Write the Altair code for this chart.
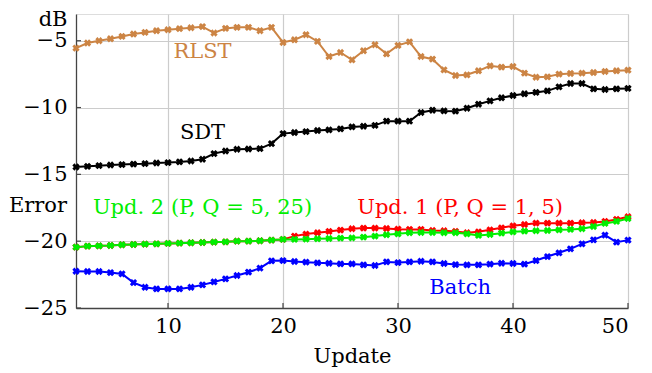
import altair as alt
import pandas as pd

updates = list(range(2, 51))

rlst = [-5.55, -5.17, -5.0, -4.85, -4.68, -4.5, -4.38, -4.25, -4.18, -4.1, -4.03, -3.95,
        -4.42, -4.08, -4.0, -4.0, -4.25, -4.0, -5.13, -4.93, -4.55, -5.05, -6.18, -5.88,
        -6.43, -5.75, -5.3, -5.98, -5.35, -5.08, -6.18, -6.38, -7.18, -7.6, -7.55, -7.25,
        -6.88, -6.98, -6.93, -7.43, -7.73, -7.7, -7.5, -7.45, -7.43, -7.38, -7.3, -7.25, -7.2]

sdt = [-14.45, -14.4, -14.35, -14.3, -14.27, -14.23, -14.2, -14.15, -14.12, -14.07, -14.0,
       -13.87, -13.45, -13.25, -13.12, -13.1, -13.07, -12.7, -11.95, -11.87, -11.8, -11.72,
       -11.67, -11.6, -11.45, -11.4, -11.33, -11.02, -11.02, -11.02, -10.37, -10.2, -10.25,
       -10.27, -10.05, -9.75, -9.5, -9.27, -9.1, -8.97, -8.87, -8.75, -8.45, -8.2, -8.2,
       -8.6, -8.65, -8.6, -8.57]

upd2 = [-20.45, -20.37, -20.35, -20.32, -20.27, -20.25, -20.22, -20.2, -20.17, -20.15,
        -20.12, -20.1, -20.07, -20.05, -20.0, -20.0, -19.97, -19.92, -19.87, -19.87, -19.85,
        -19.82, -19.8, -19.77, -19.75, -19.7, -19.62, -19.52, -19.45, -19.37, -19.35, -19.35,
        -19.37, -19.37, -19.45, -19.57, -19.5, -19.4, -19.3, -19.25, -19.22, -19.2, -19.15,
        -19.12, -19.07, -18.9, -18.67, -18.52, -18.3]

upd1 = [-20.45, -20.37, -20.35, -20.32, -20.27, -20.25, -20.22, -20.2, -20.17, -20.15,
        -20.12, -20.1, -20.07, -20.05, -20.0, -20.0, -19.97, -19.92, -19.87, -19.62, -19.47,
        -19.37, -19.27, -19.17, -19.07, -19.02, -19.02, -19.05, -19.1, -19.12, -19.12, -19.2,
        -19.22, -19.27, -19.37, -19.3, -19.15, -19.0, -18.85, -18.75, -18.65, -18.65, -18.65,
        -18.65, -18.62, -18.6, -18.52, -18.37, -18.17]

batch = [-22.25, -22.27, -22.27, -22.35, -22.45, -23.1, -23.45, -23.57, -23.57, -23.57,
         -23.45, -23.27, -23.05, -22.82, -22.57, -22.32, -22.02, -21.47, -21.45, -21.52,
         -21.57, -21.62, -21.65, -21.7, -21.7, -21.77, -21.82, -21.55, -21.6, -21.55, -21.5,
         -21.55, -21.67, -21.75, -21.77, -21.77, -21.72, -21.65, -21.67, -21.72, -21.45,
         -21.15, -20.87, -20.57, -20.2, -19.9, -19.55, -20.07, -19.92]

series_names = ["Batch", "Upd. 1", "Upd. 2", "SDT", "RLST"]
series_values = [batch, upd1, upd2, sdt, rlst]
series_colors = ["#0000FF", "#FF0000", "#00EE00", "#000000", "#CC8444"]

label_texts = ["RLST", "SDT", "Upd. 2 (P, Q = 5, 25)", "Upd. 1 (P, Q = 1, 5)", "Batch"]
label_x = [13.0, 13.0, 13.0, 35.4, 35.4]
label_y = [-5.85, -11.9, -17.55, -17.55, -23.5]
label_colors = ["#CC8444", "#000000", "#00EE00", "#FF0000", "#0000FF"]

x_ticks = [10, 20, 30, 40, 50]
y_ticks = [-5, -10, -15, -20, -25]

FONT = "DejaVu Serif"
FS = 21
W, H = 552, 294

xscale = alt.Scale(domain=[2, 50], nice=False, zero=False)
yscale = alt.Scale(domain=[-25, -3], nice=False, zero=False)

xaxis = alt.Axis(values=x_ticks, grid=True, gridColor="#cccccc", gridWidth=1.2,
                 domainColor="#444444", domainWidth=1.3, tickSize=0, labelPadding=7,
                 labelFont=FONT, labelFontSize=FS, labelColor="black",
                 title="Update", titleFont=FONT, titleFontSize=FS, titleFontWeight="normal",
                 titleColor="black", titleBaseline="middle", titleY=48)
yaxis = alt.Axis(values=y_ticks, grid=True, gridColor="#cccccc", gridWidth=1.2,
                 domainColor="#444444", domainWidth=1.3, tickSize=0, labelPadding=9,
                 labelFont=FONT, labelFontSize=FS, labelColor="black",
                 title="dB", titleFont=FONT, titleFontSize=FS, titleFontWeight="normal",
                 titleColor="black", titleAngle=0, titleAlign="right", titleBaseline="middle",
                 titleX=-9, titleY=5)

layers = []

base_df = pd.DataFrame({"x": [2, 50], "y": [-25, -3]})
base = alt.Chart(base_df).mark_point(opacity=0).encode(
    x=alt.X("x:Q", scale=xscale, axis=xaxis),
    y=alt.Y("y:Q", scale=yscale, axis=yaxis),
)
layers.append(base)

xt = alt.Chart(pd.DataFrame({"x": x_ticks})).mark_rule(color="#444444", strokeWidth=1.2).encode(
    x=alt.X("x:Q", scale=xscale), y=alt.value(H), y2=alt.value(H - 5))
yt = alt.Chart(pd.DataFrame({"y": y_ticks})).mark_rule(color="#444444", strokeWidth=1.2).encode(
    y=alt.Y("y:Q", scale=yscale), x=alt.value(0), x2=alt.value(5))
layers += [xt, yt]

for name, vals, col in zip(series_names, series_values, series_colors):
    df = pd.DataFrame({"x": updates, "y": vals})
    line = alt.Chart(df).mark_line(color=col, strokeWidth=2).encode(
        x=alt.X("x:Q", scale=xscale), y=alt.Y("y:Q", scale=yscale))
    pts = alt.Chart(df).mark_point(shape="cross", angle=45, filled=True, color=col,
                                   size=55, opacity=1).encode(
        x=alt.X("x:Q", scale=xscale), y=alt.Y("y:Q", scale=yscale))
    layers += [line, pts]

lab_df = pd.DataFrame({"t": label_texts, "x": label_x, "y": label_y, "c": label_colors})
labels = alt.Chart(lab_df).mark_text(font=FONT, fontSize=FS, align="center",
                                     baseline="middle").encode(
    x=alt.X("x:Q", scale=xscale), y=alt.Y("y:Q", scale=yscale),
    text="t:N", color=alt.Color("c:N", scale=None))
layers.append(labels)

err = alt.Chart(pd.DataFrame({"t": ["Error"]})).mark_text(
    font=FONT, fontSize=FS, align="right", baseline="middle", color="black").encode(
    x=alt.value(-9), y=alt.value(192), text="t:N")
layers.append(err)

chart = alt.layer(*layers).properties(
    width=W, height=H,
    autosize=alt.AutoSizeParams(type="none"),
    padding={"left": 68, "top": 6, "right": 12, "bottom": 62},
).configure_view(stroke=None).configure(background="white")

chart.save("out.html", embed_options={"renderer": "svg", "actions": False})
